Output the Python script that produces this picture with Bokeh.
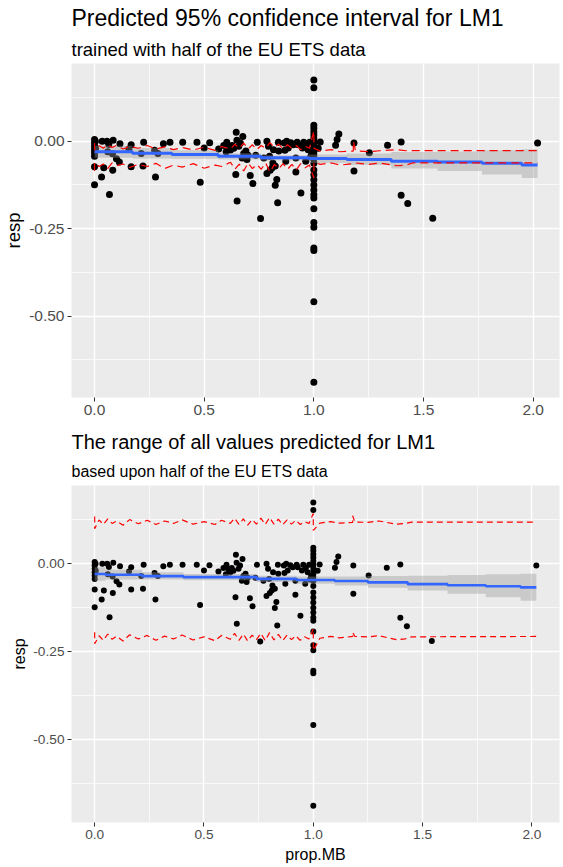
from bokeh.plotting import figure
from bokeh.models import Range1d, FixedTicker, CustomJSTickFormatter, Title
from bokeh.layouts import column
from bokeh.embed import file_html
from bokeh.resources import INLINE

FONT = "Liberation Sans"

# ---------------- observed data (prop.MB, resp) ----------------
pts_x = [0.0, 0.0, 0.0, 0.0, 0.0, 0.0, 0.0, 0.0, 0.004, 0.005,
         0.032, 0.042, 0.035, 0.057, 0.065, 0.068, 0.085, 0.082, 0.06, 0.083,
         0.113, 0.116, 0.1, 0.157, 0.167, 0.167, 0.224, 0.221, 0.213, 0.274,
         0.289, 0.278, 0.314, 0.344, 0.402, 0.467, 0.482, 0.5, 0.525, 0.566,
         0.589, 0.603, 0.612, 0.627, 0.646, 0.649, 0.658, 0.676, 0.673, 0.644,
         0.65, 0.665, 0.69, 0.695, 0.71, 0.722, 0.742, 0.757, 0.772, 0.786,
         0.793, 0.816, 0.798, 0.813, 0.786, 0.801, 0.81, 0.824, 0.831, 0.824,
         0.835, 0.838, 0.84, 0.865, 0.876, 0.883, 0.868, 0.872, 0.895, 0.906,
         0.918, 0.918, 0.924, 0.929, 0.941, 0.948, 0.954, 0.966, 0.963, 0.981,
         0.974, 0.99, 0.985, 0.62, 0.635, 0.68, 0.70, 0.60, 0.735,
         1.0, 1.0, 1.0, 1.0, 1.0, 1.0, 1.0, 1.0, 1.0, 1.0,
         1.0, 1.0, 1.0, 1.0, 1.0, 1.0, 1.0, 1.0, 1.0, 1.0,
         1.0, 1.0, 1.0, 1.0, 1.0, 1.0, 1.0, 1.0,
         1.029, 1.02, 1.099, 1.106, 1.114, 1.183, 1.183, 1.253, 1.336, 1.398,
         1.398, 1.428, 1.542, 2.02]
pts_y = [0.005, -0.004, -0.014, -0.024, -0.033, -0.043, -0.073, -0.124, 0.0, -0.02,
         -0.102, -0.076, 0.0, 0.0, -0.009, -0.152, 0.003, -0.036, -0.03, -0.083,
         -0.059, -0.007, -0.05, -0.022, -0.01, -0.073, -0.003, -0.071, -0.035, -0.026,
         -0.035, -0.102, -0.007, -0.003, -0.003, -0.003, -0.117, -0.019, -0.004, -0.022,
         -0.012, -0.003, -0.016, -0.012, 0.026, 0.003, -0.014, 0.014, -0.048, -0.095,
         -0.171, -0.005, -0.028, -0.052, -0.098, -0.121, -0.003, -0.221, -0.048, 0.0,
         -0.014, -0.024, -0.043, -0.062, -0.092, -0.083, -0.076, -0.071, -0.109, -0.126,
         -0.176, -0.003, -0.028, -0.005, 0.0, -0.019, -0.026, -0.057, -0.004, -0.01,
         -0.048, -0.088, -0.003, -0.01, -0.148, -0.019, -0.003, -0.012, -0.057, -0.003,
         -0.024, -0.035, -0.045, -0.025, -0.02, -0.035, -0.04, -0.03, -0.04,
         0.175, 0.153, 0.046, 0.037, 0.027, 0.018, 0.008, -0.001, -0.011, -0.02,
         -0.03, -0.039, -0.049, -0.063, -0.082, -0.096, -0.11, -0.125, -0.139, -0.153,
         -0.162, -0.193, -0.232, -0.246, -0.305, -0.312, -0.459, -0.689,
         -0.002, -0.02, -0.011, 0.005, 0.021, -0.005, -0.085, -0.033, -0.011, -0.002,
         -0.154, -0.178, -0.22, -0.005]

# ---------------- top panel: LM1 fit (step breaks) ----------------
fit1_x = [0.0, 0.173, 0.353, 0.564, 0.759, 0.977, 1.15, 1.353, 1.564, 1.767, 1.948, 2.02]
fit1_y = [-0.030, -0.034, -0.038, -0.043, -0.047, -0.049, -0.052, -0.057, -0.059, -0.063, -0.068, -0.068]
fit1_lo = [-0.047, -0.049, -0.050, -0.052, -0.055, -0.062, -0.068, -0.078, -0.085, -0.095, -0.105, -0.105]
fit1_hi = [-0.013, -0.019, -0.026, -0.034, -0.040, -0.038, -0.035, -0.031, -0.029, -0.026, -0.023, -0.023]

# ---------------- bottom panel: LM1 fit (step breaks) ----------------
fit2_x = [0.0, 0.049, 0.217, 0.406, 0.741, 0.923, 1.098, 1.25, 1.432, 1.614, 1.789, 1.948, 2.02]
fit2_y = [-0.029, -0.031, -0.035, -0.038, -0.043, -0.046, -0.049, -0.053, -0.058, -0.061, -0.064, -0.067, -0.067]
fit2_lo = [-0.048, -0.045, -0.045, -0.047, -0.052, -0.057, -0.062, -0.068, -0.076, -0.085, -0.095, -0.105, -0.105]
fit2_hi = [-0.010, -0.017, -0.024, -0.029, -0.034, -0.036, -0.036, -0.035, -0.034, -0.032, -0.030, -0.028, -0.028]

# ---------------- red dashed predicted bounds ----------------
band_x = [0.0, 0.0, 0.02, 0.04, 0.06, 0.08, 0.10, 0.13, 0.16, 0.20,
          0.24, 0.28, 0.32, 0.36, 0.40, 0.45, 0.50, 0.55, 0.58, 0.62,
          0.64, 0.66, 0.68, 0.70, 0.72, 0.74, 0.76, 0.78, 0.80, 0.82,
          0.84, 0.86, 0.88, 0.90, 0.92, 0.94, 0.96, 0.98, 1.0, 1.0,
          1.03, 1.08, 1.12, 1.18, 1.18, 1.19, 1.25, 1.30, 1.38, 1.42,
          1.45, 2.02]
ci_upper = [-0.005, -0.025, -0.012, -0.020, -0.010, -0.018, -0.012, -0.022, -0.015, -0.020,
            -0.012, -0.022, -0.016, -0.024, -0.018, -0.025, -0.017, -0.026, -0.015, -0.022,
            -0.008, -0.020, -0.005, -0.022, -0.010, -0.024, -0.012, -0.020, -0.004, -0.018,
            -0.008, -0.022, -0.010, -0.020, -0.012, -0.024, -0.014, -0.020, 0.030, -0.020,
            -0.028, -0.024, -0.030, -0.028, 0.000, -0.027, -0.030, -0.027, -0.024, -0.027,
            -0.027, -0.027]
ci_lower = [-0.085, -0.060, -0.072, -0.065, -0.078, -0.062, -0.070, -0.065, -0.075, -0.066,
            -0.072, -0.063, -0.078, -0.068, -0.074, -0.064, -0.077, -0.068, -0.072, -0.060,
            -0.080, -0.065, -0.085, -0.062, -0.078, -0.066, -0.080, -0.062, -0.088, -0.066,
            -0.078, -0.064, -0.080, -0.066, -0.082, -0.064, -0.076, -0.068, -0.105, -0.060,
            -0.066, -0.062, -0.068, -0.064, -0.064, -0.062, -0.066, -0.062, -0.070, -0.068,
            -0.062, -0.062]
pi_upper = [0.135, 0.100, 0.125, 0.112, 0.128, 0.115, 0.122, 0.110, 0.126, 0.114,
            0.124, 0.112, 0.122, 0.115, 0.125, 0.113, 0.120, 0.112, 0.124, 0.115,
            0.130, 0.112, 0.128, 0.110, 0.126, 0.113, 0.130, 0.112, 0.132, 0.113,
            0.127, 0.111, 0.125, 0.113, 0.124, 0.112, 0.120, 0.115, 0.143, 0.095,
            0.116, 0.120, 0.116, 0.118, 0.137, 0.119, 0.118, 0.122, 0.113, 0.115,
            0.119, 0.1185]
pi_lower = [-0.195, -0.228, -0.205, -0.218, -0.200, -0.215, -0.206, -0.220, -0.202, -0.214,
            -0.204, -0.218, -0.206, -0.214, -0.203, -0.217, -0.208, -0.219, -0.204, -0.215,
            -0.198, -0.218, -0.200, -0.220, -0.203, -0.216, -0.198, -0.219, -0.196, -0.217,
            -0.201, -0.219, -0.203, -0.216, -0.205, -0.218, -0.208, -0.214, -0.185, -0.247,
            -0.212, -0.207, -0.211, -0.207, -0.195, -0.207, -0.208, -0.205, -0.216, -0.214,
            -0.208, -0.207]

x_ticks = [0, 0.5, 1.0, 1.5, 2.0]
x_minor = [0.25, 0.75, 1.25, 1.75]
y_ticks = [-0.5, -0.25, 0.0]
y_minor = [-0.625, -0.375, -0.125, 0.125]


def expand_steps(xs, vs):
    ox, ov = [], []
    for i in range(len(xs) - 1):
        ox += [xs[i], xs[i + 1]]
        ov += [vs[i], vs[i]]
    return ox, ov


def make_panel(height, borders, xr, yr, title, subtitle, stand,
               t_size, s_size, tick_size, lab_size, xlabel,
               fx, fy, flo, fhi, upper, lower, dot, dash, lw):
    bl, br, bt, bb = borders
    p = figure(width=563, height=height, x_range=Range1d(*xr), y_range=Range1d(*yr),
               output_backend="svg", toolbar_location=None, title=None,
               min_border_left=bl, min_border_right=br,
               min_border_top=bt, min_border_bottom=bb,
               background_fill_color="#EBEBEB", border_fill_color="white",
               outline_line_color=None)
    p.add_layout(Title(text=subtitle, text_font=FONT, text_font_size=s_size,
                       text_font_style="normal", text_color="black", align="left",
                       standoff=stand[1]), "above")
    p.add_layout(Title(text=title, text_font=FONT, text_font_size=t_size,
                       text_font_style="normal", text_color="black", align="left",
                       standoff=stand[0]), "above")

    p.xaxis.ticker = FixedTicker(ticks=x_ticks, minor_ticks=x_minor)
    p.yaxis.ticker = FixedTicker(ticks=y_ticks, minor_ticks=y_minor)
    p.xaxis.formatter = CustomJSTickFormatter(code="return tick.toFixed(1)")
    p.yaxis.formatter = CustomJSTickFormatter(code="return tick.toFixed(2)")
    for ax in (p.xaxis, p.yaxis):
        ax.axis_line_color = None
        ax.major_tick_line_color = "#333333"
        ax.major_tick_in = 0
        ax.major_tick_out = 4
        ax.minor_tick_line_color = None
        ax.major_label_text_color = "#4D4D4D"
        ax.major_label_text_font = FONT
        ax.major_label_text_font_size = tick_size
        ax.major_label_standoff = 3
        ax.axis_label_text_font = FONT
        ax.axis_label_text_font_size = lab_size
        ax.axis_label_text_font_style = "normal"
        ax.axis_label_text_color = "black"
        ax.axis_label_standoff = 2
    p.yaxis.axis_label = "resp"
    if xlabel:
        p.xaxis.axis_label = xlabel
        p.xaxis.axis_label_standoff = 4
    for g in (p.xgrid, p.ygrid):
        g.grid_line_color = "white"
        g.grid_line_width = 1.4
        g.minor_grid_line_color = "white"
        g.minor_grid_line_width = 0.7

    p.scatter(pts_x, pts_y, size=dot, color="black", line_width=0)
    sx, slo = expand_steps(fx, flo)
    _, shi = expand_steps(fx, fhi)
    _, sy = expand_steps(fx, fy)
    p.varea(x=sx, y1=slo, y2=shi, fill_color="#999999", fill_alpha=0.4)
    p.line(sx, sy, line_color="#3366FF", line_width=lw)
    p.line(band_x, upper, line_color="#FF0000", line_width=1.2, line_dash=dash)
    p.line(band_x, lower, line_color="#FF0000", line_width=1.2, line_dash=dash)
    return p


p1 = make_panel(422, (70, 0, 62, 25), (-0.105, 2.12), (-0.7326, 0.2224),
                "Predicted 95% confidence interval for LM1",
                "trained with half of the EU ETS data", (4, 8),
                "23px", "18.5px", "15.5px", "18.5px", None,
                fit1_x, fit1_y, fit1_lo, fit1_hi, ci_upper, ci_lower, 7, "8 5", 3)
p2 = make_panel(445, (69, 4, 63, 45), (-0.106, 2.126), (-0.737, 0.2231),
                "The range of all values predicted for LM1",
                "based upon half of the EU ETS data", (4, 12),
                "20px", "16px", "13.7px", "16px", "prop.MB",
                fit2_x, fit2_y, fit2_lo, fit2_hi, pi_upper, pi_lower, 6, "6 4", 2.6)

layout = column(p1, p2, spacing=0)
open("out.html", "w").write(file_html(layout, INLINE))
